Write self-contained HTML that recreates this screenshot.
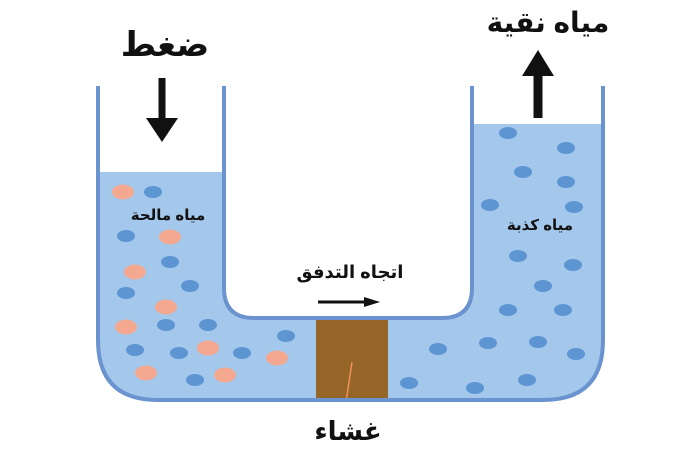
<!DOCTYPE html>
<html><head><meta charset="utf-8"><style>
html,body{margin:0;padding:0;background:#fff;width:700px;height:450px;overflow:hidden}
text{font-family:"Liberation Sans","Noto Sans CJK SC","DejaVu Sans",sans-serif;font-weight:bold;fill:#111}
</style></head><body>
<svg width="700" height="450" viewBox="0 0 700 450" xmlns="http://www.w3.org/2000/svg">
<path d="M98,172 L224,172 L224,288 Q224,318 254,318 L442,318 Q472,318 472,288 L472,124 L603,124 L603,340 Q603,400 543,400 L158,400 Q98,400 98,340 Z" fill="#a4c8ec"/>
<rect x="316" y="318" width="72" height="80" fill="#966628"/>
<line x1="352" y1="362" x2="346" y2="402" stroke="#f0905a" stroke-width="1.5"/>
<g fill="#5d95d3">
<ellipse cx="153" cy="192" rx="9" ry="6"/><ellipse cx="126" cy="236" rx="9" ry="6"/><ellipse cx="170" cy="262" rx="9" ry="6"/><ellipse cx="190" cy="286" rx="9" ry="6"/><ellipse cx="126" cy="293" rx="9" ry="6"/><ellipse cx="166" cy="325" rx="9" ry="6"/><ellipse cx="208" cy="325" rx="9" ry="6"/><ellipse cx="135" cy="350" rx="9" ry="6"/><ellipse cx="179" cy="353" rx="9" ry="6"/><ellipse cx="242" cy="353" rx="9" ry="6"/><ellipse cx="195" cy="380" rx="9" ry="6"/>
<ellipse cx="286" cy="336" rx="9" ry="6"/>
<ellipse cx="508" cy="133" rx="9" ry="6"/><ellipse cx="566" cy="148" rx="9" ry="6"/><ellipse cx="523" cy="172" rx="9" ry="6"/><ellipse cx="566" cy="182" rx="9" ry="6"/><ellipse cx="490" cy="205" rx="9" ry="6"/><ellipse cx="574" cy="207" rx="9" ry="6"/>
<ellipse cx="518" cy="256" rx="9" ry="6"/><ellipse cx="573" cy="265" rx="9" ry="6"/><ellipse cx="543" cy="286" rx="9" ry="6"/><ellipse cx="508" cy="310" rx="9" ry="6"/><ellipse cx="563" cy="310" rx="9" ry="6"/><ellipse cx="488" cy="343" rx="9" ry="6"/><ellipse cx="538" cy="342" rx="9" ry="6"/><ellipse cx="576" cy="354" rx="9" ry="6"/><ellipse cx="438" cy="349" rx="9" ry="6"/><ellipse cx="409" cy="383" rx="9" ry="6"/><ellipse cx="475" cy="388" rx="9" ry="6"/><ellipse cx="527" cy="380" rx="9" ry="6"/>
</g>
<g fill="#f4a890">
<ellipse cx="123" cy="192" rx="11" ry="7.5"/><ellipse cx="170" cy="237" rx="11" ry="7.5"/><ellipse cx="135" cy="272" rx="11" ry="7.5"/><ellipse cx="166" cy="307" rx="11" ry="7.5"/><ellipse cx="126" cy="327" rx="11" ry="7.5"/><ellipse cx="208" cy="348" rx="11" ry="7.5"/><ellipse cx="146" cy="373" rx="11" ry="7.5"/><ellipse cx="225" cy="375" rx="11" ry="7.5"/><ellipse cx="277" cy="358" rx="11" ry="7.5"/>
</g>
<path d="M98,86 L98,340 Q98,400 158,400 L543,400 Q603,400 603,340 L603,86" fill="none" stroke="#6b93cf" stroke-width="4"/>
<path d="M224,86 L224,288 Q224,318 254,318 L442,318 Q472,318 472,288 L472,86" fill="none" stroke="#6b93cf" stroke-width="4"/>
<line x1="162" y1="78" x2="162" y2="120" stroke="#111" stroke-width="7"/>
<polygon points="146,118 178,118 162,142" fill="#111"/>
<line x1="538" y1="118" x2="538" y2="72" stroke="#111" stroke-width="9"/>
<polygon points="522,76 554,76 538,50" fill="#111"/>
<line x1="318" y1="302" x2="368" y2="302" stroke="#111" stroke-width="3"/>
<polygon points="364,297 380,302 364,307" fill="#111"/>
<text x="165" y="56" font-size="34" text-anchor="middle">ضغط</text>
<text x="548" y="32" font-size="28" text-anchor="middle">مياه نقية</text>
<text x="168" y="220" font-size="15" text-anchor="middle">مياه مالحة</text>
<text x="540" y="230" font-size="15" text-anchor="middle">مياه كذبة</text>
<text x="350" y="278" font-size="18" text-anchor="middle">اتجاه التدفق</text>
<text x="348" y="440" font-size="26" text-anchor="middle">غشاء</text>
</svg>
</body></html>
